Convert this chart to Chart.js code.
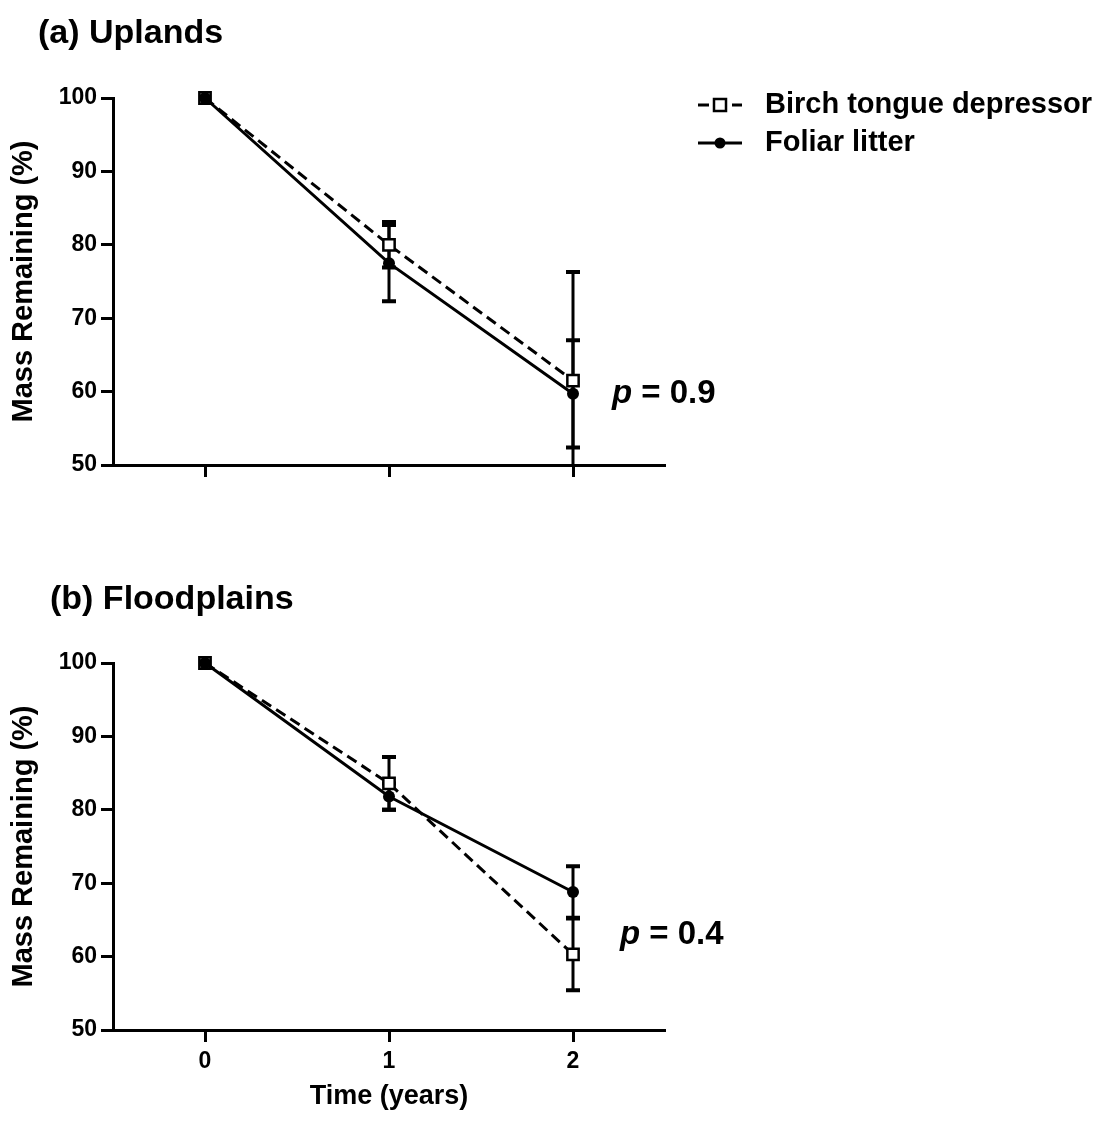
<!DOCTYPE html>
<html>
<head>
<meta charset="utf-8">
<script src="https://cdn.jsdelivr.net/npm/chart.js@4.4.1/dist/chart.umd.min.js"></script>
<style>
  body { margin: 0; background: #fff; }
  canvas { display: block; }
</style>
</head>
<body>
<canvas id="uplands" width="1112" height="540"></canvas>
<canvas id="floodplains" width="1112" height="583"></canvas>
<script>
const FONT = "'Liberation Sans', Arial, sans-serif"

// data
const timeYears = [0, 1, 2]
const xTicks = [0, 1, 2]
const yTicks = [50, 60, 70, 80, 90, 100]
const seriesNames = ['Birch tongue depressor', 'Foliar litter']

const uplandsBirch = [100, 80.0, 61.5]
const uplandsBirchErr = [0, 3.1, 14.8]
const uplandsFoliar = [100, 77.5, 59.7]
const uplandsFoliarErr = [0, 5.2, 7.3]

const floodBirch = [100, 83.6, 60.3]
const floodBirchErr = [0, 3.6, 4.9]
const floodFoliar = [100, 81.8, 68.8]
const floodFoliarErr = [0, 1.8, 3.5]

const errorBars = {
    id: 'errorBars',
    beforeDatasetsDraw(chart) {
        const ctx = chart.ctx
        const area = chart.chartArea
        const y = chart.scales.y
        ctx.save()
        ctx.beginPath()
        ctx.rect(area.left, area.top - 10, area.right - area.left, area.bottom - area.top + 10)
        ctx.clip()
        ctx.strokeStyle = '#000'
        chart.data.datasets.forEach((ds, i) => {
            chart.getDatasetMeta(i).data.forEach((pt, j) => {
                const e = ds.errors[j]
                if (!e) return
                const top = y.getPixelForValue(ds.data[j].y + e)
                const bot = y.getPixelForValue(ds.data[j].y - e)
                ctx.lineWidth = 3
                ctx.beginPath()
                ctx.moveTo(pt.x, top); ctx.lineTo(pt.x, bot)
                ctx.stroke()
                ctx.lineWidth = 4
                ctx.beginPath()
                ctx.moveTo(pt.x - 7, top); ctx.lineTo(pt.x + 7, top)
                ctx.moveTo(pt.x - 7, bot); ctx.lineTo(pt.x + 7, bot)
                ctx.stroke()
            })
        })
        ctx.restore()
    }
}

const panelText = {
    id: 'panelText',
    afterDraw(chart, args, o) {
        const ctx = chart.ctx
        ctx.save()
        ctx.fillStyle = '#000'
        ctx.textBaseline = 'alphabetic'
        ctx.textAlign = 'left'
        ctx.font = 'bold 34px ' + FONT
        ctx.fillText(o.title, o.titleX, o.titleY)

        ctx.font = 'italic bold 33px ' + FONT
        ctx.fillText('p', o.pX, o.pY)
        const w = ctx.measureText('p').width
        ctx.font = 'bold 33px ' + FONT
        ctx.fillText(' = ' + o.pValue, o.pX + w, o.pY)

        if (o.legend) {
            chart.data.datasets.forEach((ds, i) => {
                const ly = 105 + i * 38
                ctx.strokeStyle = '#000'
                ctx.lineWidth = 3
                ctx.setLineDash(ds.borderDash || [])
                ctx.beginPath()
                ctx.moveTo(698, ly); ctx.lineTo(742, ly)
                ctx.stroke()
                ctx.setLineDash([])
                ctx.lineWidth = 2.5
                if (ds.pointStyle === 'rect') {
                    ctx.fillStyle = '#fff'
                    ctx.fillRect(714, ly - 6, 12, 12)
                    ctx.strokeRect(714, ly - 6, 12, 12)
                } else {
                    ctx.fillStyle = '#000'
                    ctx.beginPath()
                    ctx.arc(720, ly, 5.5, 0, Math.PI * 2)
                    ctx.fill()
                }
                ctx.fillStyle = '#000'
                ctx.font = 'bold 29px ' + FONT
                ctx.textBaseline = 'middle'
                ctx.fillText(ds.label, 765, ly)
            })
        }
        ctx.restore()
    }
}

function points(vals) {
    return timeYears.map((x, i) => ({ x: x, y: vals[i] }))
}

function makePanel(id, birch, birchErr, foliar, foliarErr, opts) {
    return new Chart(document.getElementById(id), {
        type: 'line',
        data: {
            datasets: [
                {
                    label: seriesNames[0],
                    data: points(birch),
                    errors: birchErr,
                    order: 1,
                    borderColor: '#000',
                    borderWidth: 3,
                    borderDash: [11, 6],
                    pointStyle: 'rect',
                    pointRadius: 8,
                    pointBackgroundColor: '#fff',
                    pointBorderColor: '#000',
                    pointBorderWidth: 2.5,
                    clip: false
                },
                {
                    label: seriesNames[1],
                    data: points(foliar),
                    errors: foliarErr,
                    order: 0,
                    borderColor: '#000',
                    borderWidth: 3,
                    pointStyle: 'circle',
                    pointRadius: 6,
                    pointBackgroundColor: '#000',
                    pointBorderColor: '#000',
                    pointBorderWidth: 0,
                    clip: false
                }
            ]
        },
        options: {
            responsive: false,
            animation: false,
            layout: { padding: { top: opts.top, right: 447, left: 0, bottom: 0 } },
            plugins: {
                legend: { display: false },
                tooltip: { enabled: false },
                panelText: opts
            },
            scales: {
                x: {
                    type: 'linear',
                    min: -0.5,
                    max: 2.5,
                    afterBuildTicks: s => { s.ticks = xTicks.map(v => ({ value: v })) },
                    afterFit: s => { s.height = opts.xHeight },
                    border: { display: true, color: '#000', width: 3 },
                    grid: { display: true, drawOnChartArea: false, drawTicks: true, tickLength: 12, tickWidth: 3, tickColor: '#000' },
                    ticks: {
                        color: '#000',
                        padding: 6,
                        font: { family: FONT, size: 23, weight: 'bold' },
                        callback: v => opts.xLabels ? String(v) : ''
                    },
                    title: {
                        display: opts.xLabels,
                        text: 'Time (years)',
                        color: '#000',
                        font: { family: FONT, size: 27, weight: 'bold' },
                        padding: { top: 0, bottom: 10 }
                    }
                },
                y: {
                    min: 50,
                    max: 100,
                    afterBuildTicks: s => { s.ticks = yTicks.map(v => ({ value: v })) },
                    afterFit: s => { s.width = 113 },
                    border: { display: true, color: '#000', width: 3 },
                    grid: { display: true, drawOnChartArea: false, drawTicks: true, tickLength: 12, tickWidth: 3, tickColor: '#000' },
                    ticks: {
                        color: '#000',
                        padding: 4,
                        font: { family: FONT, size: 23, weight: 'bold' }
                    },
                    title: {
                        display: true,
                        text: 'Mass Remaining (%)',
                        color: '#000',
                        font: { family: FONT, size: 29, weight: 'bold' },
                        padding: { top: 7, bottom: 0 }
                    }
                }
            }
        },
        plugins: [errorBars, panelText]
    })
}

makePanel('uplands', uplandsBirch, uplandsBirchErr, uplandsFoliar, uplandsFoliarErr, {
    top: 98, xHeight: 75, xLabels: false,
    title: '(a) Uplands', titleX: 38, titleY: 43,
    pValue: '0.9', pX: 612, pY: 403,
    legend: true
})

makePanel('floodplains', floodBirch, floodBirchErr, floodFoliar, floodFoliarErr, {
    top: 123, xHeight: 93, xLabels: true,
    title: '(b) Floodplains', titleX: 50, titleY: 69,
    pValue: '0.4', pX: 620, pY: 404,
    legend: false
})
</script>
</body>
</html>
